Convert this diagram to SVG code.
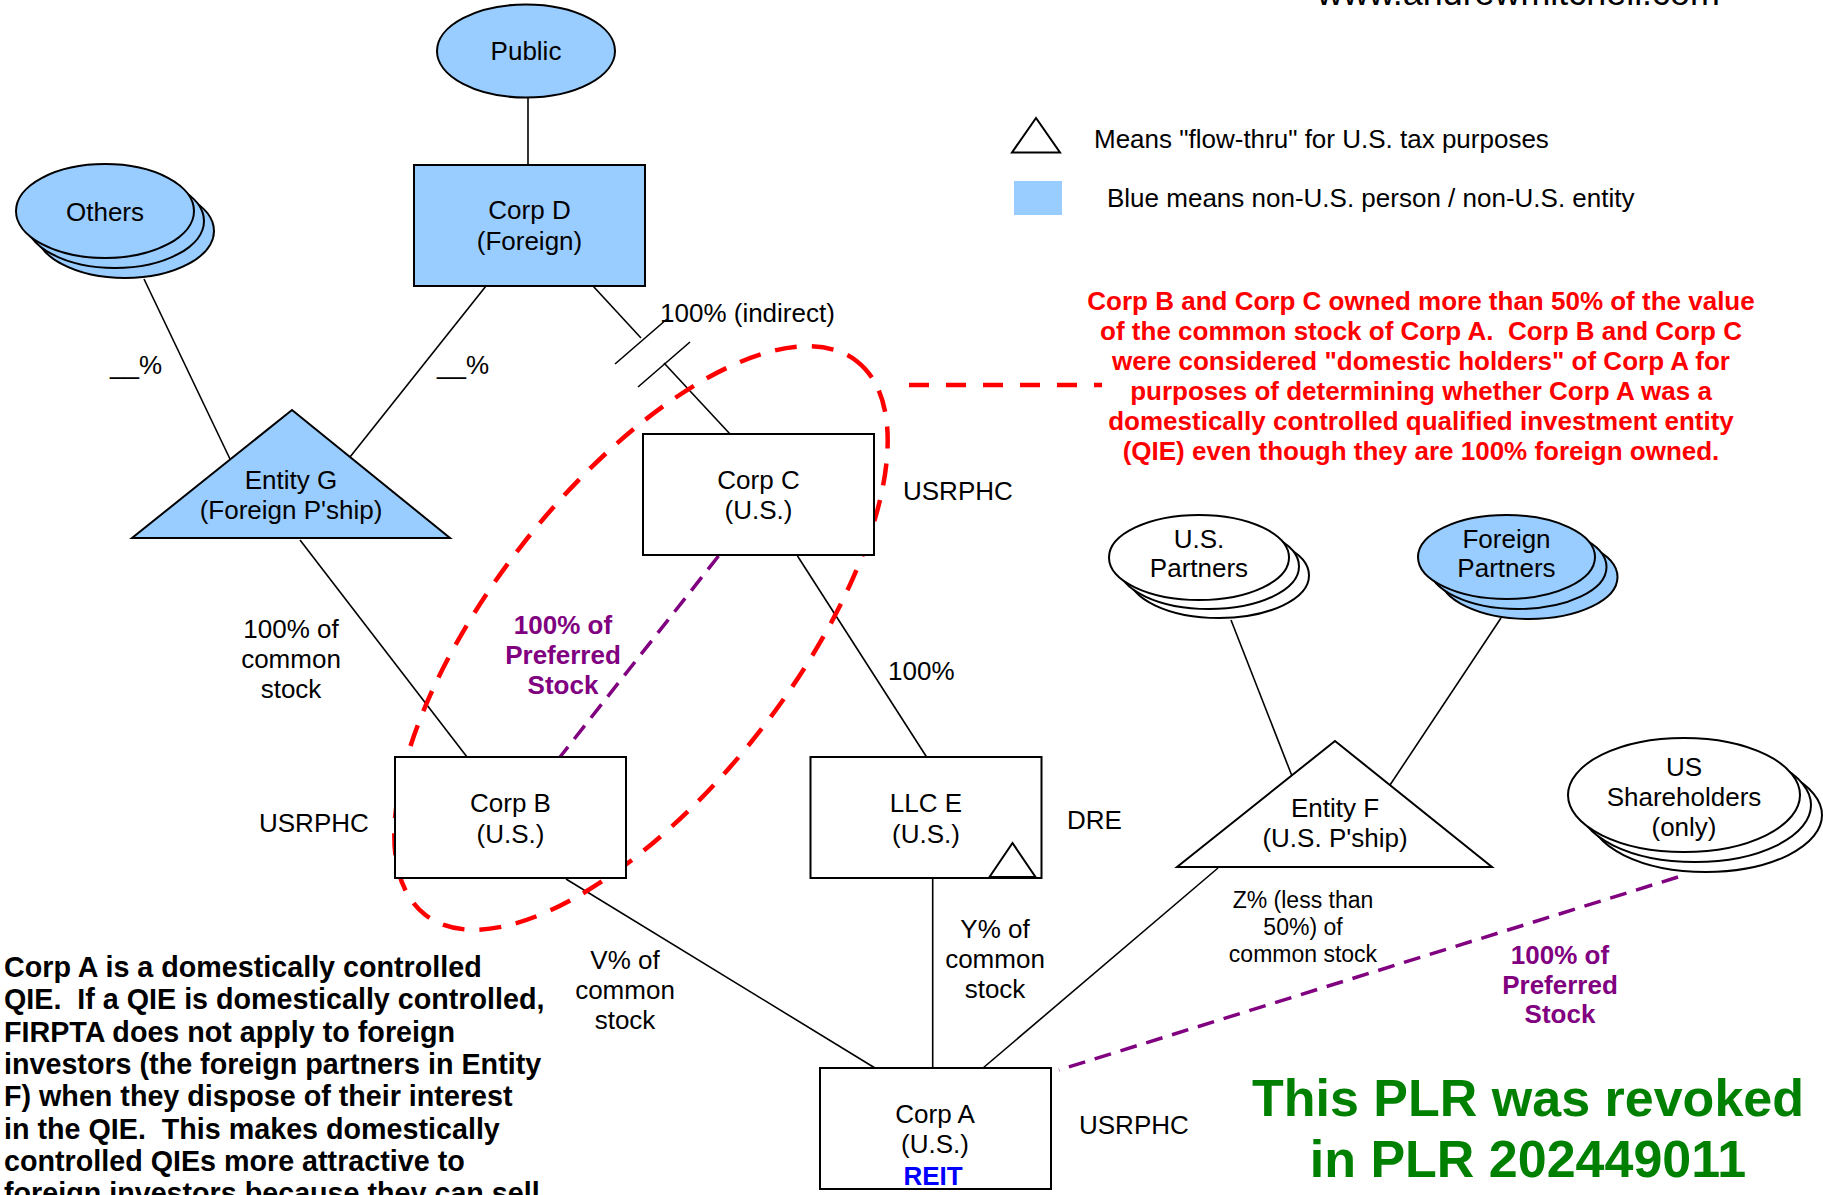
<svg xmlns="http://www.w3.org/2000/svg" width="1823" height="1195" viewBox="0 0 1823 1195">
<style>
text{font-family:"Liberation Sans",Arial,sans-serif;font-size:26px;fill:#000}
.c{text-anchor:middle}
.b{font-weight:bold}
.blue{fill:#99CCFF;stroke:#000;stroke-width:2}
.wht{fill:#FFFFFF;stroke:#000;stroke-width:2}
.ln{stroke:#000;stroke-width:1.6;fill:none}
.red{stroke:#FF0000;stroke-width:4.5;fill:none}
.pur{stroke:#800080;stroke-width:3.5;fill:none;stroke-dasharray:17 10}
.pt{fill:#800080;font-weight:bold}
.rt{fill:#FF0000;font-weight:bold}
.bn{font-size:28.7px;font-weight:bold;white-space:pre}
</style>
<rect x="0" y="0" width="1823" height="1195" fill="#FFFFFF"/>

<text x="1317" y="5" style="font-size:35.9px">www.andrewmitchell.com</text>

<g id="connectors">
<line class="ln" x1="528" y1="97.5" x2="528" y2="165"/>
<line class="ln" x1="144" y1="279" x2="230" y2="459"/>
<line class="ln" x1="486" y1="286" x2="350" y2="457"/>
<line class="ln" x1="593" y1="286" x2="641" y2="338"/>
<line class="ln" x1="664" y1="363" x2="730" y2="434"/>
<line class="ln" x1="615" y1="364" x2="667" y2="319"/>
<line class="ln" x1="638" y1="387" x2="690" y2="342"/>
<line class="ln" x1="300" y1="540" x2="467" y2="757"/>
<line class="ln" x1="797.5" y1="556" x2="926.6" y2="757"/>
<line class="ln" x1="932.7" y1="879" x2="932.7" y2="1068"/>
<line class="ln" x1="566" y1="879" x2="875" y2="1068"/>
<line class="ln" x1="1218" y1="868" x2="983" y2="1068"/>
<line class="ln" x1="1231" y1="620" x2="1292" y2="776"/>
<line class="ln" x1="1501" y1="618" x2="1390" y2="785"/>
<line class="pur" x1="718.5" y1="556" x2="560" y2="757"/>
<line class="pur" x1="1678" y1="877" x2="1059" y2="1070"/>
<line class="red" x1="909" y1="385" x2="1102" y2="385" style="stroke-dasharray:20 17"/>
<ellipse class="red" cx="641" cy="638" rx="351" ry="151" transform="rotate(-52 641 638)" style="stroke-dasharray:22 15"/>
</g>

<g id="public">
<ellipse class="blue" cx="526" cy="51" rx="89" ry="46.5"/>
<text class="c" x="526" y="60">Public</text>
</g>

<g id="others">
<ellipse class="blue" cx="125" cy="231" rx="89" ry="47"/>
<ellipse class="blue" cx="115" cy="221" rx="89" ry="47"/>
<ellipse class="blue" cx="105" cy="211" rx="89" ry="47"/>
<text class="c" x="105" y="221">Others</text>
</g>

<g id="corp-d">
<rect class="blue" x="414" y="165" width="231" height="121"/>
<text class="c" x="529.5" y="219">Corp D</text>
<text class="c" x="529.5" y="250">(Foreign)</text>
</g>

<g id="entity-g">
<polygon class="blue" points="292,410 132,538 450,538"/>
<text class="c" x="291" y="489">Entity G</text>
<text class="c" x="291" y="519">(Foreign P'ship)</text>
</g>

<g id="corp-c">
<rect class="wht" x="643" y="434" width="231" height="121"/>
<text class="c" x="758.5" y="489">Corp C</text>
<text class="c" x="758.5" y="519">(U.S.)</text>
</g>

<g id="corp-b">
<rect class="wht" x="395" y="757" width="231" height="121"/>
<text class="c" x="510.5" y="812">Corp B</text>
<text class="c" x="510.5" y="843">(U.S.)</text>
</g>

<g id="llc-e">
<rect class="wht" x="810.5" y="757" width="231" height="121"/>
<polygon class="wht" points="1012.5,843 989.5,877 1035.5,877"/>
<text class="c" x="926" y="812">LLC E</text>
<text class="c" x="926" y="843">(U.S.)</text>
</g>

<g id="corp-a">
<rect class="wht" x="820" y="1068" width="231" height="121"/>
<text class="c" x="935" y="1123">Corp A</text>
<text class="c" x="935" y="1153">(U.S.)</text>
<text class="c b" x="933" y="1185" style="fill:#0000FF">REIT</text>
</g>

<g id="us-partners">
<ellipse class="wht" cx="1219" cy="575.5" rx="90" ry="42.5"/>
<ellipse class="wht" cx="1209" cy="566.5" rx="90" ry="42.5"/>
<ellipse class="wht" cx="1199" cy="557.5" rx="90" ry="42.5"/>
<text class="c" x="1199" y="548">U.S.</text>
<text class="c" x="1199" y="577">Partners</text>
</g>

<g id="foreign-partners">
<ellipse class="blue" cx="1529" cy="577" rx="88.5" ry="42"/>
<ellipse class="blue" cx="1518" cy="567" rx="88.5" ry="42"/>
<ellipse class="blue" cx="1506.5" cy="557" rx="88.5" ry="42"/>
<text class="c" x="1506.5" y="548">Foreign</text>
<text class="c" x="1506.5" y="577">Partners</text>
</g>

<g id="entity-f">
<polygon class="wht" points="1335,741 1177,867 1492,867"/>
<text class="c" x="1335" y="817">Entity F</text>
<text class="c" x="1335" y="847">(U.S. P'ship)</text>
</g>

<g id="us-shareholders">
<ellipse class="wht" cx="1706" cy="815" rx="116" ry="57"/>
<ellipse class="wht" cx="1695" cy="805" rx="116" ry="57"/>
<ellipse class="wht" cx="1684" cy="795" rx="116" ry="57"/>
<text class="c" x="1684" y="776">US</text>
<text class="c" x="1684" y="806">Shareholders</text>
<text class="c" x="1684" y="836">(only)</text>
</g>

<g id="labels">
<text x="110" y="374">__%</text>
<text x="437" y="374">__%</text>
<text x="660" y="322">100% (indirect)</text>
<text x="903" y="500">USRPHC</text>
<text x="259" y="832">USRPHC</text>
<text x="1067" y="829">DRE</text>
<text x="1079" y="1134">USRPHC</text>
<text x="888" y="680">100%</text>
<text class="c" x="291" y="638">100% of</text>
<text class="c" x="291" y="668">common</text>
<text class="c" x="291" y="698">stock</text>
<text class="c pt" x="563" y="634">100% of</text>
<text class="c pt" x="563" y="664">Preferred</text>
<text class="c pt" x="563" y="694">Stock</text>
<text class="c" x="625" y="969">V% of</text>
<text class="c" x="625" y="999">common</text>
<text class="c" x="625" y="1029">stock</text>
<text class="c" x="995" y="938">Y% of</text>
<text class="c" x="995" y="968">common</text>
<text class="c" x="995" y="998">stock</text>
<text class="c" x="1303" y="908" style="font-size:23px">Z% (less than</text>
<text class="c" x="1303" y="935" style="font-size:23px">50%) of</text>
<text class="c" x="1303" y="962" style="font-size:23px">common stock</text>
<text class="c pt" x="1560" y="964">100% of</text>
<text class="c pt" x="1560" y="994">Preferred</text>
<text class="c pt" x="1560" y="1023">Stock</text>
</g>

<g id="legend">
<polygon class="wht" points="1036,118 1012,152.5 1060,152.5"/>
<text x="1094" y="148">Means "flow-thru" for U.S. tax purposes</text>
<rect x="1014" y="181" width="48" height="34" fill="#99CCFF"/>
<text x="1107" y="207">Blue means non-U.S. person / non-U.S. entity</text>
</g>

<g id="red-note">
<text class="c rt" x="1421" y="310">Corp B and Corp C owned more than 50% of the value</text>
<text class="c rt" x="1421" y="340" style="white-space:pre">of the common stock of Corp A.  Corp B and Corp C</text>
<text class="c rt" x="1421" y="370">were considered "domestic holders" of Corp A for</text>
<text class="c rt" x="1421" y="400">purposes of determining whether Corp A was a</text>
<text class="c rt" x="1421" y="430">domestically controlled qualified investment entity</text>
<text class="c rt" x="1421" y="460">(QIE) even though they are 100% foreign owned.</text>
</g>

<g id="bottom-note">
<text class="bn" x="4" y="977">Corp A is a domestically controlled</text>
<text class="bn" x="4" y="1009.3">QIE.  If a QIE is domestically controlled,</text>
<text class="bn" x="4" y="1041.6">FIRPTA does not apply to foreign</text>
<text class="bn" x="4" y="1073.9">investors (the foreign partners in Entity</text>
<text class="bn" x="4" y="1106.2">F) when they dispose of their interest</text>
<text class="bn" x="4" y="1138.5">in the QIE.  This makes domestically</text>
<text class="bn" x="4" y="1170.8">controlled QIEs more attractive to</text>
<text class="bn" x="4" y="1203.1">foreign investors because they can sell</text>
</g>

<g id="revoked">
<text class="c b" x="1528" y="1116" style="font-size:52px;fill:#008000">This PLR was revoked</text>
<text class="c b" x="1528" y="1177" style="font-size:52px;fill:#008000">in PLR 202449011</text>
</g>
</svg>
